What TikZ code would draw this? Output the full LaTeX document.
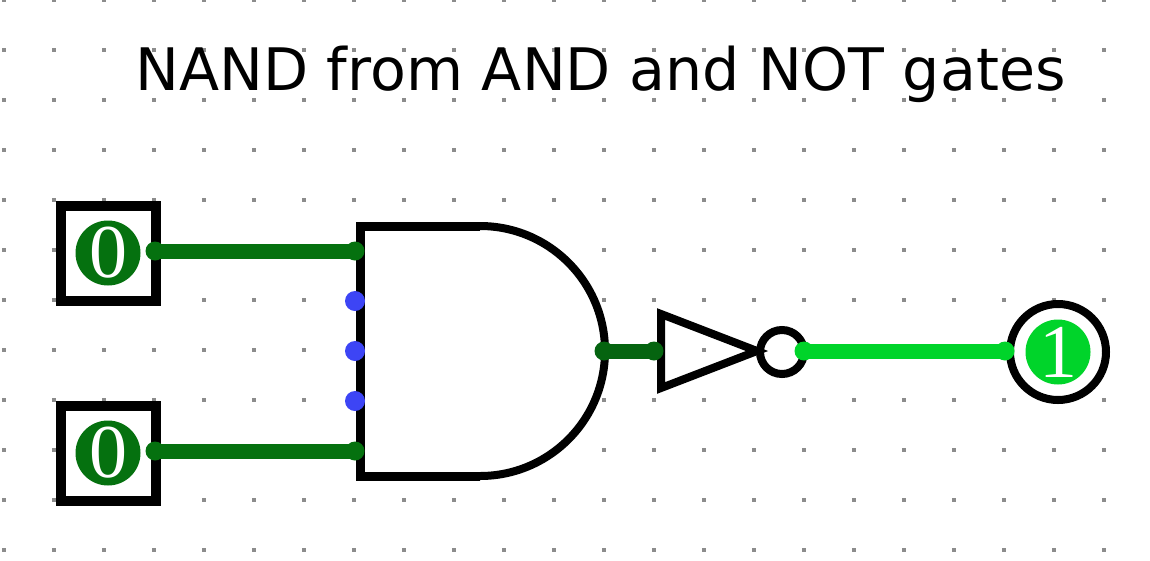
\documentclass[tikz,border=0pt]{standalone}
\usepackage{xcolor}
\usepackage{fontspec}
\setmainfont{DejaVu Sans}
\newfontfamily\pinfont{Liberation Serif}
\definecolor{Wire Low}{HTML}{05710F}
\definecolor{Wire Mid}{HTML}{056410}
\definecolor{Wire High}{HTML}{00D42A}
\definecolor{Pin Blue}{HTML}{3D45F5}
\definecolor{Grid Gray}{HTML}{8C8C8C}
\colorlet{cLow}{Wire Low}
\colorlet{cMid}{Wire Mid}
\colorlet{cHigh}{Wire High}
\colorlet{cPin}{Pin Blue}
\usetikzlibrary{positioning}
\tikzset{
	griddot/.style={
		fill=Grid Gray,
		inner sep=0pt,
		minimum size=4pt
	},
	inbox/.style={
		draw,
		fill=white,
		line width=10pt,
		minimum size=95pt,
		inner sep=0pt,
		outer sep=0pt
	},
	outring/.style={
		draw,
		circle,
		fill=white,
		line width=8pt,
		minimum size=96pt,
		inner sep=0pt
	},
	value/.style={
		circle,
		minimum size=65pt,
		inner sep=0pt,
		text=white,
		font=\pinfont\fontsize{76}{76}\selectfont
	},
	pin/.style={
		circle,
		inner sep=0pt,
		minimum size=19pt
	},
	unused/.style={
		circle,
		fill=cPin,
		inner sep=0pt,
		minimum size=20pt
	},
	wire/.style={
		line width=15pt
	},
	gate/.style={
		draw,
		line width=8pt,
		line join=miter
	},
	bubble/.style={
		draw,
		circle,
		line width=8pt,
		minimum size=44pt,
		inner sep=0pt
	}
}

\begin{document}
\begin{tikzpicture}[x=1pt, y=-1pt]
\useasboundingbox (0,0) rectangle (1150,560);
% ---
% Grid
% ---
\foreach \i in {0,...,22}
	\foreach \j in {0,...,11}
		\node[griddot] (g\i-\j) at (4+50*\i,50*\j) {};

\node[anchor=base west, font=\fontsize{58.6}{58.6}\selectfont] (title) at (132,90) {NAND from AND and NOT gates};

% ---
% Inputs and output
% ---
\node[inbox] (in0) at (108,253) {};
\node[inbox] (in1) at (108,453) {};
\node[value, fill=cLow] (val0) at (108,253) {0};
\node[value, fill=cLow] (val1) at (108,453) {0};
\node[outring] (out) at (1058,352) {};
\node[value, fill=cHigh] (valout) at (1058,352) {1};

% ---
% Gates
% ---
\coordinate (andtl) at (360,226);
\coordinate (andbl) at (360,476);
\coordinate (andtr) at (480,226);
\coordinate (andbr) at (480,476);
\fill[white] (andtl) -- (andtr) arc[start angle=-90, end angle=90, radius=125] -- (andbl) -- cycle;
\draw[gate, line width=9pt] (andtr) -- (andtl) -- (andbl) -- (andbr);
\draw[gate] (andtr) arc[start angle=-90, end angle=90, radius=125];

\coordinate (nottl) at (661,314);
\coordinate (notbl) at (661,388);
\coordinate (nottip) at (757,351);
\draw[gate] (nottl) -- (nottip) -- (notbl) -- cycle;
\node[bubble] (neg) at (782,352) {};

% ---
% Wires
% ---
\node[pin, fill=cLow] (in0p) at (155,251) {};
\node[pin, fill=cLow] (in1p) at (155,451) {};
\node[pin, fill=cLow] (and0) at (355,251) {};
\node[pin, fill=cLow] (and1) at (355,451) {};
\node[pin, fill=cMid] (andout) at (604,351) {};
\node[pin, fill=cMid] (notin) at (654,351) {};
\node[pin, fill=cHigh] (notout) at (804,351) {};
\node[pin, fill=cHigh] (outp) at (1005,351) {};
\node[unused] (u0) at (355,301) {};
\node[unused] (u1) at (355,351) {};
\node[unused] (u2) at (355,401) {};

\draw[wire, cLow] (in0p.center) to (and0.center);
\draw[wire, cLow] (in1p.center) to (and1.center);
\draw[wire, cMid] (andout.center) to (notin.center);
\draw[wire, cHigh] (notout.center) to (outp.center);
\end{tikzpicture}
\end{document}
